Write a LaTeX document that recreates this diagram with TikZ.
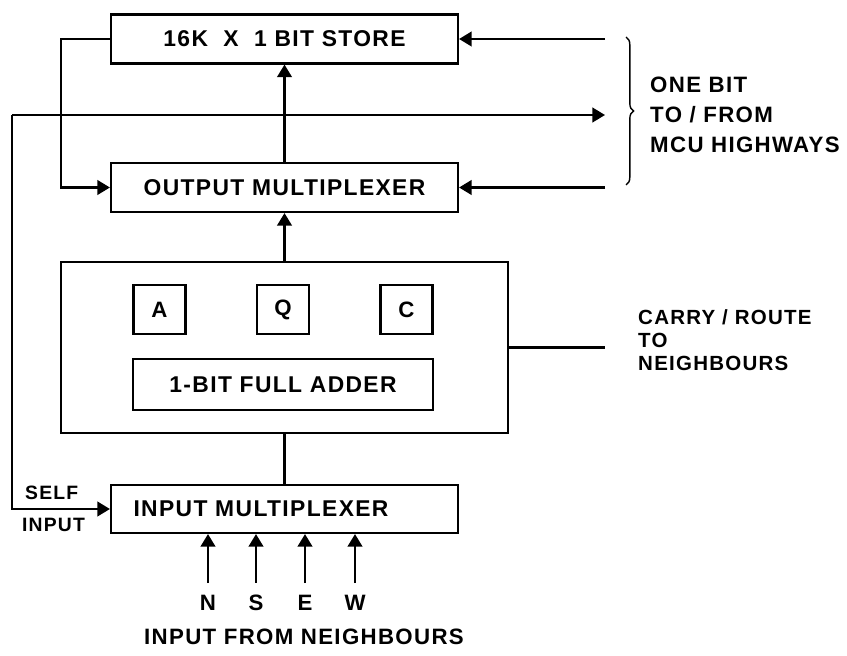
\documentclass[tikz,border=0pt]{standalone}
\usepackage{fontspec}
\setmainfont{Liberation Sans}[LetterSpace=6]
\usetikzlibrary{arrows.meta,decorations.pathreplacing}

\begin{document}
\begin{tikzpicture}[x=0.03cm, y=-0.03cm,
  block/.style = {draw, line width=1.8pt, inner sep=0pt, font=\fontsize{19.5}{22}\selectfont\bfseries,
                  minimum width=10.41cm, minimum height=1.47cm},
  reg/.style   = {draw, line width=1.8pt, inner sep=0pt, font=\fontsize{19}{22}\selectfont\bfseries,
                  minimum width=1.56cm, minimum height=1.47cm},
  wire/.style  = {line width=2pt},
  sig/.style   = {wire, -{Triangle[length=0.38cm,width=0.44cm]}},
  lbl/.style   = {font=\fontsize{19}{22}\selectfont\bfseries, inner sep=0pt},
  note/.style  = {lbl, anchor=west, align=left},
]
  \useasboundingbox (0,0) rectangle (847,656);

  % blocks, positions in pixels of the original (y down)
  \node[block] (store)  at (284.5,39)    {16K\ \ X\ \ 1 BIT STORE};
  \node[block] (outmux) at (284.5,187.5) {OUTPUT MULTIPLEXER};
  \node[block, minimum width=13.41cm, minimum height=5.13cm] (pe) at (284.5,347.5) {};
  \node[reg] (regA) at (159.5,309.5) {A};
  \node[reg] (regQ) at (283,309.5)   {Q};
  \node[reg] (regC) at (406.5,309.5) {C};
  \node[block, minimum width=9cm, minimum height=1.53cm] (adder) at (283,384.5) {1-BIT FULL ADDER};
  \node[block, minimum height=1.44cm] (inmux) at (284.5,509) {};
  \node[lbl, font=\fontsize{19.5}{22}\selectfont\bfseries] (inmuxtxt) at (261,509) {INPUT MULTIPLEXER};

  % free ends of the highway and carry wires
  \coordinate (loopL)  at (61,39);
  \coordinate (selfT)  at (12,115);
  \coordinate (hwyA)   at (605,39);
  \coordinate (hwyOut) at (605,115);
  \coordinate (hwyB)   at (605,187.5);
  \coordinate (carry)  at (605,347.5);

  \draw[sig] (outmux) -- (store);
  \draw[sig] (pe) -- (outmux);
  \draw[wire] (pe) -- (inmux);
  \draw[sig] (store.west) -- (loopL) |- (outmux.west);
  \draw[sig] (selfT) -- (hwyOut);
  \draw[sig] (selfT) |- (inmux.west);
  \draw[sig] (hwyA) -- (store.east);
  \draw[sig] (hwyB) -- (outmux.east);
  \draw[wire] (pe.east) -- (carry);

  % brace over the three highway wires
  \draw[line width=1.2pt, decorate, decoration={brace, amplitude=6.5pt}] (626,37) -- (626,185);

  \node[note, font=\fontsize{19}{25.6}\selectfont\bfseries] (hwytxt) at (650,115)
    {ONE BIT\\TO / FROM\\MCU HIGHWAYS};
  \node[note, font=\fontsize{17.5}{19.5}\selectfont\bfseries] (carrytxt) at (638,340.5)
    {CARRY / ROUTE\\TO\\NEIGHBOURS};
  \node[lbl, anchor=west, font=\fontsize{16.5}{18}\selectfont\bfseries] (selftxt)  at (25,493) {SELF};
  \node[lbl, anchor=west, font=\fontsize{16.5}{18}\selectfont\bfseries] (inputtxt) at (22,525) {INPUT};

  % the four neighbour inputs
  \foreach \d/\x in {N/208,S/256,E/305,W/355} {
    \node[lbl] (n\d) at (\x,603) {\d};
    \draw[sig] ([yshift=0.36cm]n\d.north) -- (inmux.south -| n\d);
  }
  \node[lbl] (nbtxt) at (304,637) {INPUT FROM NEIGHBOURS};
\end{tikzpicture}
\end{document}
